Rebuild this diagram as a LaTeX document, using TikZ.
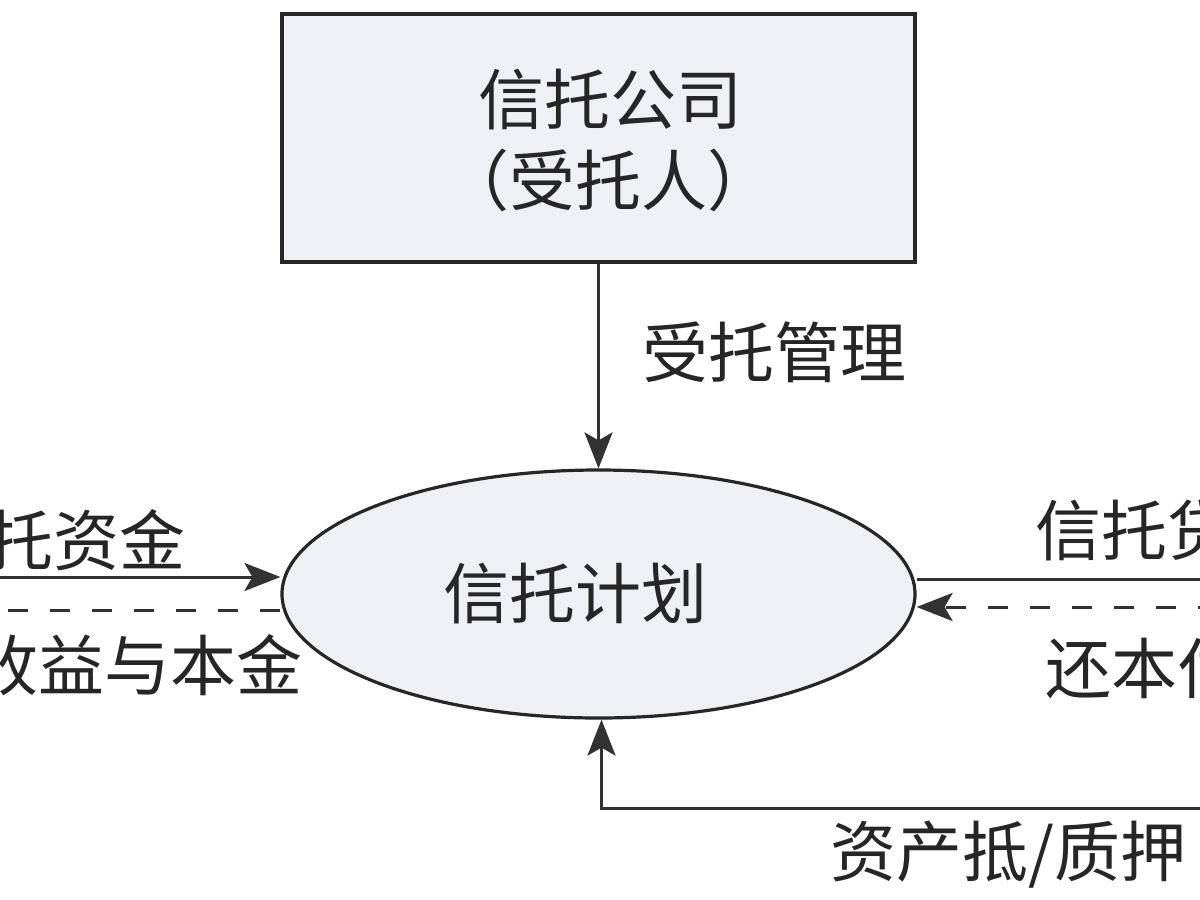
\documentclass[tikz,border=0pt]{standalone}
\usepackage{fontspec}
\newfontfamily\cjk{Noto Sans CJK SC}
\usetikzlibrary{shapes.geometric,arrows.meta,calc}
\definecolor{boxfill}{RGB}{238,240,243}
\definecolor{linecol}{RGB}{50,50,50}
\tikzset{
  txt/.style={font=\cjk\fontsize{33pt}{40pt}\selectfont, text=black!85, inner sep=0pt},
  arr/.style={draw=linecol, line width=1.5pt, -{Stealth[length=18pt,width=14pt,inset=4pt]}},
  plainline/.style={draw=linecol, line width=1.5pt},
  dashline/.style={draw=linecol, line width=1.5pt, dash pattern=on 10pt off 11pt},
  trustbox/.style={draw=black!85, line width=1.6pt, fill=boxfill, minimum width=316.5pt, minimum height=124pt, align=center, inner sep=0pt},
  planell/.style={ellipse, draw=black!85, line width=1.6pt, fill=boxfill, minimum width=316.5pt, minimum height=124pt, inner sep=0pt}
}
\begin{document}
\begin{tikzpicture}[x=0.5pt,y=-0.5pt]
\useasboundingbox (0,0) rectangle (1200,900);
\clip (0,0) rectangle (1200,900);
\fill[white] (0,0) rectangle (1200,900);

% nodes
\node[trustbox] (trust) at (598.5,138) {};
\node[txt] (trustA) at (610,100) {信托公司};
\node[txt] (trustB) at (608,180) {（受托人）};
\node[planell] (plan) at (598.5,594) {};
\node[txt] (planT) at (575,594) {信托计划};

% free ends
\coordinate (inL1) at (-60,577);
\coordinate (inL2) at (-60,610);
\coordinate (outR1) at (1260,579);
\coordinate (outR2) at (1260,607);
\coordinate (outB) at (1260,808);

% connectors
\draw[arr] (trust.south) -- (plan.north);
\draw[arr] (inL1) -- ([yshift=8.5pt]plan.west);
\draw[dashline] ([yshift=-8pt]plan.west) -- (inL2);
\draw[plainline] ([yshift=7.5pt]plan.east) -- (outR1);
\draw[arr, dash pattern=on 10pt off 11pt] (outR2) -- ([yshift=-6.5pt]plan.east);
\draw[arr] (outB) -| ([xshift=1.5pt]plan.south);

% labels
\node[txt, anchor=west] (lblMgmt) at (642,352) {受托管理};
\node[txt, anchor=east] (lblFund) at (186,540) {信托资金};
\node[txt, anchor=east] (lblRet) at (303,665) {收益与本金};
\node[txt, anchor=west] (lblLoan) at (1035,530) {信托贷款};
\node[txt, anchor=west] (lblRepay) at (1045,668) {还本付息};
\node[txt, anchor=west] (lblCol) at (830,855) {资产抵/质押};
\end{tikzpicture}
\end{document}
